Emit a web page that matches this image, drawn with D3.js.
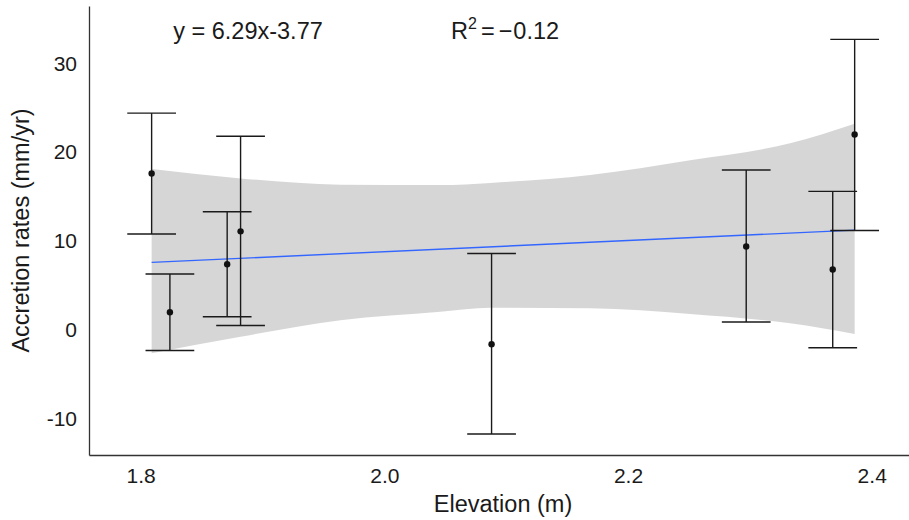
<!DOCTYPE html>
<html>
<head>
<meta charset="utf-8">
<script src="https://cdn.jsdelivr.net/npm/d3@7"></script>
<style>
  body { margin: 0; background: #fff; }
  svg text { font-family: "Liberation Sans", Arial, sans-serif; fill: #1a1a1a; }
</style>
</head>
<body>
<svg id="chart" width="909" height="520"></svg>
<script>
// sites: elevation (m), accretion rate (mm/yr) and error bar ends
var elevation = [1.809, 1.824, 1.871, 1.882, 2.088, 2.297, 2.368, 2.386];
var rate      = [17.6, 2.0, 7.4, 11.1, -1.6, 9.4, 6.8, 22.0];
var rateLow   = [10.8, -2.3, 1.5, 0.5, -11.7, 0.9, -2.0, 11.2];
var rateHigh  = [24.4, 6.3, 13.3, 21.8, 8.6, 18.0, 15.6, 32.7];

// confidence band of the fit
var bandX  = [1.809, 1.882, 1.964, 2.046, 2.087, 2.169, 2.251, 2.333, 2.386];
var bandLo = [-2.6, -0.75, 1.1, 2.05, 2.5, 2.45, 1.8, 0.75, -0.45];
var bandHi = [18.1, 17.05, 16.35, 16.3, 16.55, 17.45, 19.1, 21.0, 23.2];

// fit y = slope * x + intercept
var slope = 6.29, intercept = -3.77;

var xTicks = [1.8, 2.0, 2.2, 2.4];
var yTicks = [-10, 0, 10, 20, 30];

var svg = d3.select("#chart");

var x = d3.scaleLinear().domain([1.7576, 2.4306]).range([89, 909]);
var y = d3.scaleLinear().domain([-14.06, 36.45]).range([455, 6]);

var capW = 0.04; // errorbar width in data units

// ribbon
var area = d3.area()
  .x(d => x(d[0]))
  .y0(d => y(d[1]))
  .y1(d => y(d[2]))
  .curve(d3.curveMonotoneX);

svg.append("path")
  .datum(bandX.map((v, i) => [v, bandLo[i], bandHi[i]]))
  .attr("d", area)
  .attr("fill", "#999999")
  .attr("fill-opacity", 0.4);

// fit line
var x0 = d3.min(elevation), x1 = d3.max(elevation);
svg.append("line")
  .attr("x1", x(x0)).attr("y1", y(slope * x0 + intercept))
  .attr("x2", x(x1)).attr("y2", y(slope * x1 + intercept))
  .attr("stroke", "#3366FF")
  .attr("stroke-width", 1.4);

// error bars
var bars = svg.append("g")
  .attr("stroke", "#1a1a1a")
  .attr("stroke-width", 1.4)
  .selectAll("g")
  .data(elevation.map((e, i) => i))
  .enter().append("g");

bars.append("line")
  .attr("x1", i => x(elevation[i])).attr("x2", i => x(elevation[i]))
  .attr("y1", i => y(rateLow[i])).attr("y2", i => y(rateHigh[i]));
bars.append("line")
  .attr("x1", i => x(elevation[i] - capW / 2)).attr("x2", i => x(elevation[i] + capW / 2))
  .attr("y1", i => y(rateHigh[i])).attr("y2", i => y(rateHigh[i]));
bars.append("line")
  .attr("x1", i => x(elevation[i] - capW / 2)).attr("x2", i => x(elevation[i] + capW / 2))
  .attr("y1", i => y(rateLow[i])).attr("y2", i => y(rateLow[i]));

// points
svg.append("g").selectAll("circle")
  .data(elevation.map((e, i) => i))
  .enter().append("circle")
  .attr("cx", i => x(elevation[i]))
  .attr("cy", i => y(rate[i]))
  .attr("r", 3.2)
  .attr("fill", "#111");

// axes
var xAxis = svg.append("g")
  .attr("transform", "translate(0,455)")
  .call(d3.axisBottom(x).tickValues(xTicks).tickFormat(d3.format(".1f"))
    .tickSize(0).tickSizeOuter(0).tickPadding(13));
var yAxis = svg.append("g")
  .attr("transform", "translate(89,0)")
  .call(d3.axisLeft(y).tickValues(yTicks).tickFormat(d => String(d))
    .tickSize(0).tickSizeOuter(0).tickPadding(12));

[xAxis, yAxis].forEach(a => {
  a.select(".domain").attr("stroke", "#333").attr("stroke-width", 1.3);
  a.selectAll("text").attr("font-size", 21).attr("fill", "#1a1a1a")
    .style("font-family", "'Liberation Sans', Arial, sans-serif");
});

// axis titles
svg.append("text")
  .attr("x", 503).attr("y", 512)
  .attr("text-anchor", "middle")
  .attr("font-size", 23.5)
  .text("Elevation (m)");

svg.append("text")
  .attr("transform", "translate(29,230.5) rotate(-90)")
  .attr("text-anchor", "middle")
  .attr("font-size", 23.5)
  .text("Accretion rates (mm/yr)");

// annotations
svg.append("text")
  .attr("x", 248).attr("y", 39)
  .attr("text-anchor", "middle")
  .attr("font-size", 23.5)
  .text("y = 6.29x-3.77");

var r2 = svg.append("text")
  .attr("x", 451).attr("y", 39)
  .attr("font-size", 23.5);
r2.append("tspan").text("R");
r2.append("tspan").attr("dy", -10).attr("font-size", 16).text("2");
r2.append("tspan").attr("dy", 10).attr("dx", 4).text("=");
r2.append("tspan").attr("dx", 4).text("\u2212");
r2.append("tspan").attr("dx", 1).text("0.12");
</script>
</body>
</html>
